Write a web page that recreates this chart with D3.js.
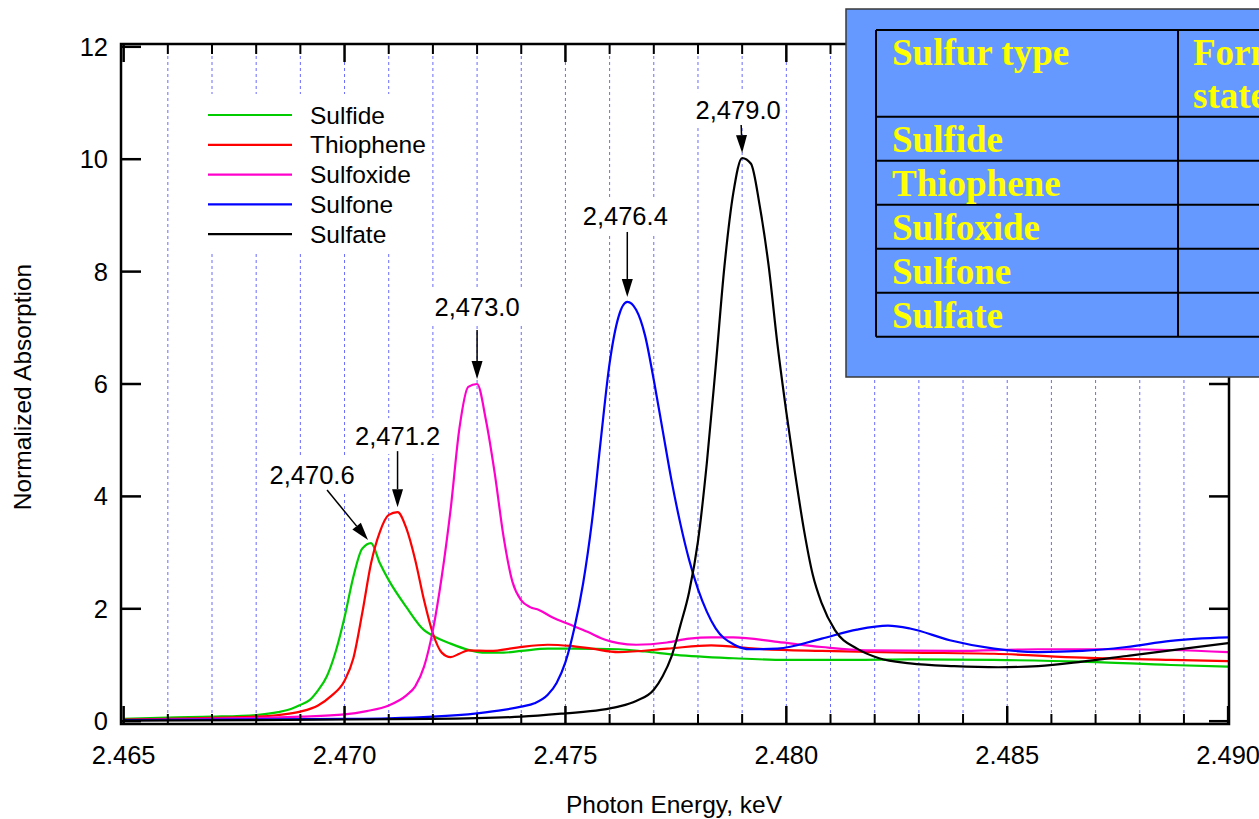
<!DOCTYPE html>
<html><head><meta charset="utf-8">
<script src="https://cdn.jsdelivr.net/npm/d3@7"></script>
<style>html,body{margin:0;padding:0;background:#fff;overflow:hidden}</style>
</head><body>
<svg id="chart" width="1259" height="819"></svg>
<script>
// ---------------- DATA ----------------
const seriesNames = ["Sulfide", "Thiophene", "Sulfoxide", "Sulfone", "Sulfate"];

const sulfideE = [2.465,2.466,2.467,2.468,2.4685,2.4688,2.469,2.4692,2.4694,2.4696,2.4698,2.4700,2.4702,2.4704,2.4706,2.4708,2.4710,2.4714,2.4718,2.4720,2.4724,2.4728,2.4732,2.4736,2.4740,2.4746,2.4752,2.4762,2.4768,2.4775,2.4788,2.4800,2.4815,2.4828,2.4847,2.4867,2.4887,2.4900];
const sulfideV = [0.04,0.066,0.08,0.11,0.16,0.22,0.29,0.37,0.55,0.80,1.24,1.85,2.57,3.07,3.17,2.81,2.51,2.03,1.62,1.52,1.38,1.27,1.22,1.22,1.25,1.29,1.29,1.28,1.24,1.18,1.12,1.09,1.09,1.10,1.09,1.06,1.00,0.97];

const thiopheneE = [2.465,2.466,2.467,2.468,2.4685,2.469,2.4694,2.4697,2.4700,2.4702,2.4704,2.4706,2.4708,2.4710,2.4712,2.4714,2.4716,2.4718,2.4720,2.4722,2.4724,2.4726,2.4728,2.4733,2.4739,2.4746,2.4751,2.4756,2.4762,2.4773,2.4783,2.4793,2.4808,2.4828,2.4847,2.4867,2.4887,2.4900];
const thiopheneV = [0.03,0.04,0.06,0.08,0.11,0.17,0.28,0.45,0.72,1.12,1.92,2.81,3.37,3.67,3.72,3.43,2.87,2.15,1.56,1.22,1.14,1.20,1.26,1.25,1.31,1.36,1.34,1.29,1.23,1.29,1.35,1.29,1.25,1.22,1.20,1.13,1.09,1.07];

const sulfoxideE = [2.465,2.466,2.468,2.469,2.470,2.4705,2.471,2.4714,2.4716,2.4718,2.4720,2.4722,2.4724,2.4726,2.4728,2.4730,2.4732,2.4734,2.4736,2.4738,2.4740,2.4742,2.4744,2.4747,2.4751,2.4755,2.4759,2.4762,2.4766,2.4773,2.4778,2.4783,2.4788,2.4798,2.4808,2.4818,2.4838,2.4857,2.4877,2.4900];
const sulfoxideV = [0.02,0.03,0.06,0.08,0.12,0.18,0.28,0.46,0.62,0.97,1.62,2.57,3.76,5.21,5.95,6.00,5.36,4.41,3.28,2.48,2.15,2.03,1.98,1.85,1.72,1.59,1.45,1.39,1.36,1.40,1.47,1.49,1.49,1.41,1.32,1.26,1.25,1.28,1.28,1.23];

const sulfoneE = [2.465,2.467,2.470,2.471,2.472,2.473,2.4736,2.474,2.4743,2.4746,2.4748,2.4750,2.4752,2.4754,2.4756,2.4758,2.4760,2.4762,2.4764,2.4766,2.4768,2.4770,2.4772,2.4774,2.4776,2.4778,2.4780,2.4782,2.4784,2.4788,2.4792,2.4798,2.4808,2.4816,2.4823,2.4828,2.4837,2.4847,2.4857,2.4867,2.4877,2.4887,2.4900];
const sulfoneV = [0.02,0.03,0.04,0.05,0.08,0.14,0.20,0.26,0.32,0.47,0.68,1.05,1.65,2.45,3.55,5.00,6.37,7.19,7.46,7.32,6.87,6.07,5.18,4.29,3.52,2.87,2.35,1.95,1.65,1.37,1.28,1.29,1.47,1.63,1.70,1.65,1.44,1.29,1.23,1.25,1.32,1.43,1.49];

const sulfateE = [2.465,2.468,2.470,2.472,2.474,2.475,2.4758,2.4762,2.4766,2.4770,2.4772,2.4774,2.4776,2.4778,2.4780,2.4782,2.4784,2.4786,2.4788,2.4790,2.4792,2.4794,2.4796,2.4798,2.4800,2.4802,2.4804,2.4806,2.4808,2.4811,2.4816,2.4821,2.4828,2.4838,2.4848,2.4857,2.4867,2.4877,2.4887,2.4900];
const sulfateV = [0.01,0.02,0.03,0.04,0.08,0.14,0.20,0.26,0.36,0.56,0.80,1.15,1.70,2.30,3.20,4.59,6.30,8.10,9.40,10.02,9.92,9.16,8.10,6.70,5.50,4.40,3.40,2.60,2.10,1.62,1.29,1.12,1.03,0.98,0.96,0.98,1.06,1.16,1.26,1.39];

const xMajorTicks = [2.465, 2.470, 2.475, 2.480, 2.485, 2.490];
const xTickLabels = ["2.465", "2.470", "2.475", "2.480", "2.485", "2.490"];
const xMinorTicks = [2.466,2.467,2.468,2.469,2.471,2.472,2.473,2.474,2.476,2.477,2.478,2.479,2.481,2.482,2.483,2.484,2.486,2.487,2.488,2.489];
const yTicks = [0, 2, 4, 6, 8, 10, 12];
const yTickLabels = ["0", "2", "4", "6", "8", "10", "12"];

const peakLabels = ["2,470.6", "2,471.2", "2,473.0", "2,476.4", "2,479.0"];
const peakE = [2.4706, 2.4712, 2.4730, 2.4764, 2.4790];
const peakV = [3.17, 3.72, 6.00, 7.46, 10.02];

const tableHeader1 = ["Sulfur type", "Formal oxidation"];
const tableHeader2 = ["", "state"];
const tableRows = ["Sulfide", "Thiophene", "Sulfoxide", "Sulfone", "Sulfate"];

const xTitle = "Photon Energy, keV";
const yTitle = "Normalized Absorption";

// ---------------- DRAWING ----------------
const colors = ["#00cc00", "#ff0000", "#ff00cc", "#0000ff", "#000000"];
const allE = [sulfideE, thiopheneE, sulfoxideE, sulfoneE, sulfateE];
const allV = [sulfideV, thiopheneV, sulfoxideV, sulfoneV, sulfateV];
const series = seriesNames.map((n, i) => ({name: n, color: colors[i], pts: allE[i].map((e, j) => [e, allV[i][j]])}));

const svg = d3.select("#chart");
const L = 121, R = 1229, T = 44, B = 724;
const x = d3.scaleLinear().domain([2.46494, 2.49002]).range([L, R]);
const y = d3.scaleLinear().domain([-0.05, 12.05]).range([B, T]);
const font = "'Liberation Sans', Arial, sans-serif";

// gridlines
svg.append("g").selectAll("line").data(x.ticks(25).filter(v => v > 2.4652 && v < 2.4898)).join("line")
  .attr("x1", d => x(d)).attr("x2", d => x(d)).attr("y1", T).attr("y2", B)
  .attr("stroke", "#6a6aff").attr("stroke-width", 1).attr("stroke-dasharray", "3,3");

// legend background
svg.append("rect").attr("x", 200).attr("y", 94).attr("width", 225).attr("height", 158).attr("fill", "#fff");

// annotation layout (text position, arrow start, arrow end relative to peak pixel)
const annLayout = [
  {tx: -59, ty: -59, ax1: -44, ay1: -53, ax2: -3, ay2: -3},
  {tx: 0, ty: -67, ax1: 0, ay1: -61, ax2: 0, ay2: -5},
  {tx: 0, ty: -68, ax1: 0, ay1: -54, ax2: 0, ay2: -5},
  {tx: -2, ty: -77, ax1: 0, ay1: -70, ax2: 0, ay2: -5},
  {tx: -4, ty: -39, ax1: -1, ay1: -33, ax2: 0, ay2: -5}
];
const annG = svg.append("g");
const anns = peakLabels.map((lab, i) => ({lab, px: x(peakE[i]), py: y(peakV[i]), l: annLayout[i]}));
anns.forEach(a => {
  const t = annG.append("text").attr("x", a.px + a.l.tx).attr("y", a.py + a.l.ty)
    .attr("text-anchor", "middle").attr("font-family", font).attr("font-size", 25.5).text(a.lab);
  const bb = t.node().getBBox();
  annG.insert("rect", "text").attr("x", bb.x - 3).attr("y", bb.y - 4).attr("width", bb.width + 6).attr("height", bb.height + 8).attr("fill", "#fff");
});

// curves
const line = d3.line().x(d => x(d[0])).y(d => y(d[1])).curve(d3.curveMonotoneX);
svg.append("g").selectAll("path").data(series).join("path")
  .attr("d", d => line(d.pts)).attr("fill", "none").attr("stroke", d => d.color)
  .attr("stroke-width", 2.2).attr("stroke-linejoin", "round");

// arrows
anns.forEach(a => {
  const x1 = a.px + a.l.ax1, y1 = a.py + a.l.ay1, x2 = a.px + a.l.ax2, y2 = a.py + a.l.ay2;
  const ang = Math.atan2(y2 - y1, x2 - x1), hl = 18, hw = 5.5;
  const bx = x2 - hl * Math.cos(ang), by = y2 - hl * Math.sin(ang);
  annG.append("line").attr("x1", x1).attr("y1", y1).attr("x2", bx).attr("y2", by).attr("stroke", "#000").attr("stroke-width", 1.5);
  const px = -Math.sin(ang), py = Math.cos(ang);
  annG.append("path").attr("d", `M${x2},${y2}L${bx + hw * px},${by + hw * py}L${bx - hw * px},${by - hw * py}Z`).attr("fill", "#000");
});

// frame and ticks
const axG = svg.append("g").attr("stroke", "#000");
axG.append("rect").attr("x", L).attr("y", T).attr("width", R - L).attr("height", B - T).attr("fill", "none").attr("stroke-width", 2.5);
xMajorTicks.forEach(v => {
  axG.append("line").attr("x1", x(v)).attr("x2", x(v)).attr("y1", B).attr("y2", B - 18).attr("stroke-width", 2.5);
  axG.append("line").attr("x1", x(v)).attr("x2", x(v)).attr("y1", T).attr("y2", T + 18).attr("stroke-width", 2.5);
});
xMinorTicks.forEach(v => {
  axG.append("line").attr("x1", x(v)).attr("x2", x(v)).attr("y1", B).attr("y2", B - 10).attr("stroke-width", 2);
  axG.append("line").attr("x1", x(v)).attr("x2", x(v)).attr("y1", T).attr("y2", T + 10).attr("stroke-width", 2);
});
yTicks.forEach(v => {
  axG.append("line").attr("x1", L).attr("x2", L + 20).attr("y1", y(v)).attr("y2", y(v)).attr("stroke-width", 2.5);
  axG.append("line").attr("x1", R).attr("x2", R - 20).attr("y1", y(v)).attr("y2", y(v)).attr("stroke-width", 2.5);
});
svg.append("g").selectAll("text").data(xMajorTicks).join("text")
  .attr("x", d => x(d)).attr("y", 764).attr("text-anchor", "middle")
  .attr("font-family", font).attr("font-size", 25.5).text((d, i) => xTickLabels[i]);
svg.append("g").selectAll("text").data(yTicks).join("text")
  .attr("x", 108).attr("y", d => y(d) + 9).attr("text-anchor", "end")
  .attr("font-family", font).attr("font-size", 25.5).text((d, i) => yTickLabels[i]);
svg.append("text").attr("x", 674).attr("y", 813).attr("text-anchor", "middle")
  .attr("font-family", font).attr("font-size", 24.5).text(xTitle);
svg.append("text").attr("transform", "translate(31,387) rotate(-90)").attr("text-anchor", "middle")
  .attr("font-family", font).attr("font-size", 24.5).text(yTitle);

// legend
const lg = svg.append("g");
series.forEach((s, i) => {
  const ly = 115 + i * 29.8;
  lg.append("line").attr("x1", 208).attr("x2", 292).attr("y1", ly).attr("y2", ly).attr("stroke", s.color).attr("stroke-width", 2.2);
  lg.append("text").attr("x", 310).attr("y", ly + 8.5).attr("font-family", font).attr("font-size", 24.5).text(s.name);
});

// table box
const tb = svg.append("g");
tb.append("rect").attr("x", 846).attr("y", 9).attr("width", 600).attr("height", 368)
  .attr("fill", "#6699ff").attr("stroke", "#3a3a3a").attr("stroke-width", 1.5);
const rowY = [30, 116.7, 160.7, 204.7, 248.7, 292.7, 336.7];
rowY.forEach(ry => tb.append("line").attr("x1", 876).attr("x2", 1400).attr("y1", ry).attr("y2", ry).attr("stroke", "#000").attr("stroke-width", 2));
[876, 1178].forEach(cx => tb.append("line").attr("x1", cx).attr("x2", cx).attr("y1", 30).attr("y2", 336.7).attr("stroke", "#000").attr("stroke-width", 2));
const tfont = "'Liberation Serif', 'Times New Roman', serif";
const colX = [892, 1193];
tableHeader1.forEach((h, i) => tb.append("text").attr("x", colX[i]).attr("y", 65).attr("font-family", tfont).attr("font-weight", "bold").attr("font-size", 37).attr("fill", "#ffff00").text(h));
tableHeader2.forEach((h, i) => tb.append("text").attr("x", colX[i]).attr("y", 108).attr("font-family", tfont).attr("font-weight", "bold").attr("font-size", 37).attr("fill", "#ffff00").text(h));
tableRows.forEach((r, i) => tb.append("text").attr("x", colX[0]).attr("y", rowY[i + 2] - 8.5).attr("font-family", tfont).attr("font-weight", "bold").attr("font-size", 37).attr("fill", "#ffff00").text(r));
</script>
</body></html>
